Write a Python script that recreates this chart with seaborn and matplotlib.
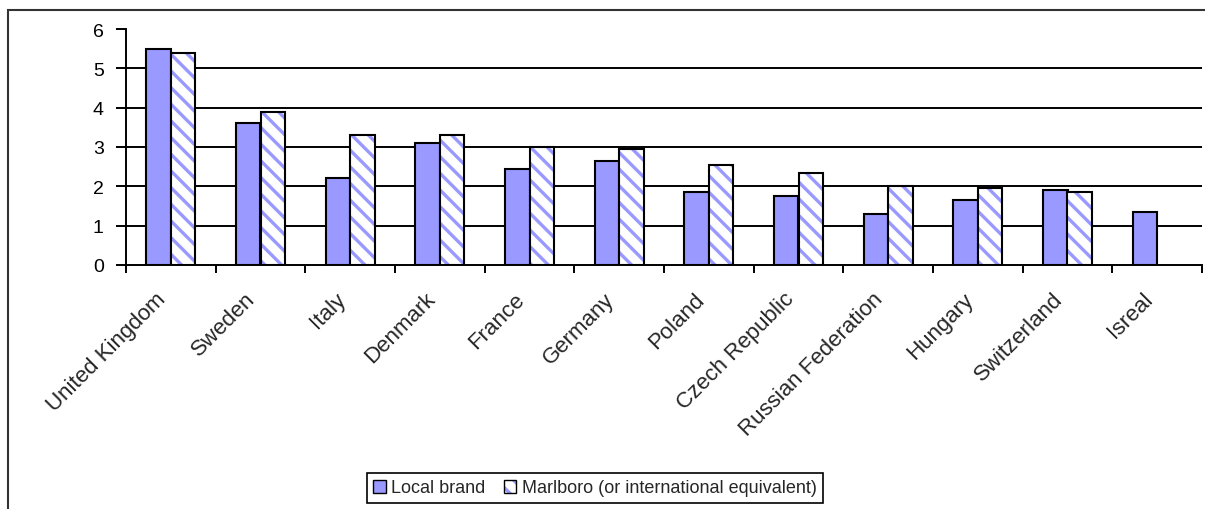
import numpy as np
import pandas as pd
import matplotlib
matplotlib.use("Agg")
import matplotlib.pyplot as plt
import seaborn as sns
from matplotlib.patches import Rectangle, Patch
from matplotlib.legend_handler import HandlerTuple
from matplotlib.transforms import ScaledTranslation

countries = ["United Kingdom", "Sweden", "Italy", "Denmark", "France", "Germany",
             "Poland", "Czech Republic", "Russian Federation", "Hungary",
             "Switzerland", "Isreal"]
local_brand = [5.5, 3.6, 2.2, 3.1, 2.45, 2.65, 1.85, 1.75, 1.3, 1.65, 1.9, 1.35]
marlboro = [5.4, 3.9, 3.3, 3.3, 3.0, 2.95, 2.55, 2.35, 2.0, 1.97, 1.85, np.nan]
series_names = ["Local brand", "Marlboro (or international equivalent)"]
yticks = [0, 1, 2, 3, 4, 5, 6]

BLUE = "#9999FF"

df = pd.DataFrame({
    "country": countries * 2,
    "series": [series_names[0]] * len(countries) + [series_names[1]] * len(countries),
    "value": local_brand + marlboro,
})

sns.set_style("white")
plt.rcParams["font.family"] = ["Liberation Sans", "DejaVu Sans"]
plt.rcParams["hatch.linewidth"] = 2.4

W, H = 1205, 510
fig = plt.figure(figsize=(W / 100, H / 100), dpi=100)
ax = fig.add_axes([126 / W, 1 - 266 / H, (1202 - 126) / W, (266 - 30) / H])

sns.barplot(data=df, x="country", y="value", hue="series", order=countries,
            hue_order=series_names, palette=[BLUE, "#FFFFFF"], saturation=1,
            width=0.55, edgecolor="black", linewidth=1.5, errorbar=None,
            ax=ax, legend=False, zorder=3)

# hatch the Marlboro bars with blue stripes, keep a black outline on top
for bar in ax.containers[1]:
    h = bar.get_height()
    if not np.isfinite(h) or h == 0:
        continue
    bar.set_hatch("\\\\")
    bar.set_edgecolor(BLUE)
    bar.set_linewidth(0)
    ax.add_patch(Rectangle(bar.get_xy(), bar.get_width(), h, fill=False,
                           edgecolor="black", linewidth=1.5, zorder=4))

ax.set_ylim(0, 6)
ax.set_yticks(yticks)
ax.set_xlim(-0.5, len(countries) - 0.5)
ax.hlines(yticks[1:-1], 0, 1, transform=ax.get_yaxis_transform(),
          colors="black", linewidth=1.4, zorder=1)

for s in ["top", "right"]:
    ax.spines[s].set_visible(False)
for s in ["left", "bottom"]:
    ax.spines[s].set_color("black")
    ax.spines[s].set_linewidth(1.4)

ax.set_xlabel("")
ax.set_ylabel("")
ax.tick_params(axis="y", direction="out", length=7, width=1.4, labelsize=14,
               pad=9, left=True, colors="black")
ax.set_xticks(np.arange(len(countries)))
ax.set_xticks(np.arange(len(countries) + 1) - 0.5, minor=True)
ax.tick_params(axis="x", which="major", length=0, pad=22)
ax.tick_params(axis="x", which="minor", direction="out", length=6, width=1.4,
               bottom=True, colors="black")
ax.set_xticklabels(countries, rotation=45, ha="right", va="center",
                   rotation_mode="anchor", fontsize=16)
off = ScaledTranslation(-8 / 100, 0, fig.dpi_scale_trans)
for lab in ax.get_xticklabels():
    lab.set_transform(lab.get_transform() + off)

# outer chart border
fig.add_artist(Rectangle((8 / W, -0.05), 1.2, (H - 11) / H + 0.05,
                         transform=fig.transFigure, fill=False,
                         edgecolor="#333333", linewidth=1.5))

h1 = Patch(facecolor=BLUE, edgecolor="black", linewidth=1.0)
h2a = Patch(facecolor="white", edgecolor=BLUE, hatch="\\\\", linewidth=0)
h2b = Patch(facecolor="none", edgecolor="black", linewidth=1.0)
leg = fig.legend([h1, (h2a, h2b)], series_names, loc="center",
                 bbox_to_anchor=(595 / W, 1 - 489 / H), ncol=2, frameon=True,
                 fancybox=False, edgecolor="black", framealpha=1,
                 handlelength=0.7, handleheight=0.7, handletextpad=0.3,
                 columnspacing=1.0, borderpad=0.35, fontsize=13,
                 handler_map={tuple: HandlerTuple(ndivide=1)})
leg.get_frame().set_linewidth(1.2)

fig.savefig("out.png", dpi=100)
